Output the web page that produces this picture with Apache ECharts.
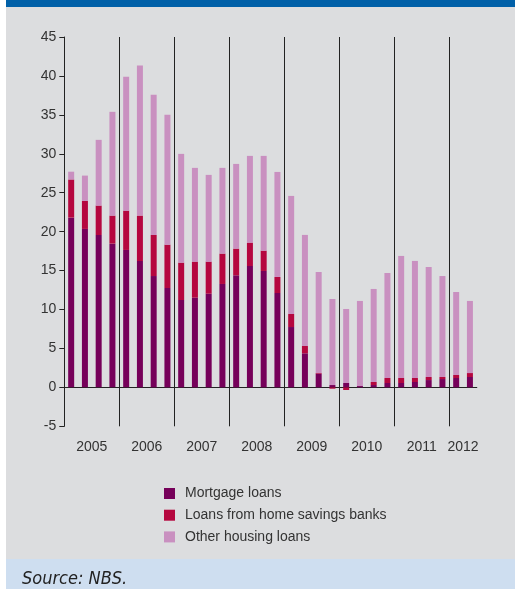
<!DOCTYPE html>
<html>
<head>
<meta charset="utf-8">
<script src="https://cdn.jsdelivr.net/npm/echarts@6/dist/echarts.min.js"></script>
<style>
  html, body { margin: 0; padding: 0; background: #ffffff; }
  #chart { width: 515px; height: 589px; }
</style>
</head>
<body>
<div id="chart"></div>
<script>
// Quarterly categories, 2005 Q1 – 2012 Q2
const quarters = [
  '2005 Q1', '2005 Q2', '2005 Q3', '2005 Q4',
  '2006 Q1', '2006 Q2', '2006 Q3', '2006 Q4',
  '2007 Q1', '2007 Q2', '2007 Q3', '2007 Q4',
  '2008 Q1', '2008 Q2', '2008 Q3', '2008 Q4',
  '2009 Q1', '2009 Q2', '2009 Q3', '2009 Q4',
  '2010 Q1', '2010 Q2', '2010 Q3', '2010 Q4',
  '2011 Q1', '2011 Q2', '2011 Q3', '2011 Q4',
  '2012 Q1', '2012 Q2'
];

// Year-on-year contributions (percentage points)
const mortgageLoans = [
  21.8, 20.35, 19.57, 18.46,
  17.65, 16.23, 14.3, 12.76,
  11.22, 11.52, 12.03, 13.28,
  14.39, 15.59, 14.95, 12.12,
  7.75, 4.37, 1.75, 0.3,
  0.56, 0.17, 0.3, 0.56,
  0.56, 0.69, 0.94, 1.07,
  1.2, 1.33
];
const homeSavingsLoans = [
  4.9, 3.6, 3.78, 3.6,
  5.05, 5.83, 5.27, 5.57,
  4.8, 4.63, 4.12, 3.9,
  3.43, 3.0, 2.61, 2.06,
  1.67, 0.94, 0.09, -0.17,
  -0.34, 0.0, 0.39, 0.64,
  0.64, 0.51, 0.39, 0.26,
  0.39, 0.51
];
const otherHousingLoans = [
  1.0, 3.25, 8.44, 13.33,
  17.18, 19.28, 18.0, 16.67,
  13.97, 12.04, 11.14, 11.01,
  10.88, 11.14, 12.17, 13.49,
  15.17, 14.27, 12.98, 11.05,
  9.51, 10.93, 11.95, 13.49,
  15.68, 15.04, 14.13, 12.97,
  10.66, 9.26
];

const yearLabels = ['2005', '2006', '2007', '2008', '2009', '2010', '2011', '2012'];
const yTickValues = [-5, 0, 5, 10, 15, 20, 25, 30, 35, 40, 45];
const seriesNames = ['Mortgage loans', 'Loans from home savings banks', 'Other housing loans'];

// Centre of each year's block of quarters, in quarter units
const yearCentres = yearLabels.map(function (y) {
  const idx = quarters.map(function (q, i) { return q.indexOf(y) === 0 ? i : -1; })
                      .filter(function (i) { return i >= 0; });
  return (idx[0] + idx[idx.length - 1] + 1) / 2;
});

const FONT = '"Liberation Sans", Arial, sans-serif';
const INK = '#333333';
const AXIS = '#222222';

const chart = echarts.init(document.getElementById('chart'), null, { renderer: 'canvas' });

chart.setOption({
  animation: false,
  backgroundColor: '#ffffff',
  textStyle: { fontFamily: FONT },
  graphic: [
    { type: 'rect', z: -10, silent: true, shape: { x: 6, y: 7, width: 509, height: 552 }, style: { fill: '#dcdddf' } },
    { type: 'rect', z: -10, silent: true, shape: { x: 6, y: 0, width: 509, height: 7 }, style: { fill: '#0060a8' } },
    { type: 'rect', z: -10, silent: true, shape: { x: 6, y: 559, width: 509, height: 30 }, style: { fill: '#cedef0' } },
    {
      type: 'text', z: 10, silent: true, left: 22, top: 570,
      style: {
        text: 'Source: NBS.',
        font: 'italic 18px "Liberation Sans Narrow", "DejaVu Sans Condensed", sans-serif',
        fill: '#222222'
      }
    }
  ],
  grid: { left: 64.3, right: 38.2, top: 37, bottom: 162.7, containLabel: false },
  legend: {
    orient: 'vertical',
    left: 164,
    top: 486.5,
    padding: 0,
    itemWidth: 11,
    itemHeight: 11,
    itemGap: 7.7,
    icon: 'rect',
    data: seriesNames,
    textStyle: { fontFamily: FONT, fontSize: 14, color: INK, padding: [0, 0, 0, 5] }
  },
  xAxis: [
    {
      type: 'category',
      data: quarters,
      axisLine: { onZero: true, lineStyle: { color: AXIS, width: 1 } },
      axisTick: { show: false },
      axisLabel: { show: false },
      splitLine: { show: false }
    },
    {
      // year separators and year labels
      type: 'value',
      position: 'bottom',
      min: 0,
      max: quarters.length,
      interval: 4,
      axisLine: { show: false },
      axisTick: { show: false },
      splitLine: { show: true, showMinLine: false, showMaxLine: false, lineStyle: { color: AXIS, width: 1 } },
      axisLabel: {
        customValues: yearCentres,
        margin: 14,
        fontSize: 14,
        color: INK,
        fontFamily: FONT,
        formatter: function (v) {
          const i = yearCentres.indexOf(v);
          return i >= 0 ? yearLabels[i] : '';
        }
      }
    }
  ],
  yAxis: {
    type: 'value',
    min: yTickValues[0],
    max: yTickValues[yTickValues.length - 1],
    interval: 5,
    axisLine: { show: true, lineStyle: { color: AXIS, width: 1 } },
    axisTick: { show: true, inside: false, length: 5, lineStyle: { color: AXIS } },
    splitLine: { show: false },
    axisLabel: { fontSize: 14, color: INK, margin: 8, fontFamily: FONT }
  },
  series: [
    { name: seriesNames[0], type: 'bar', stack: 'total', xAxisIndex: 0, barWidth: 6, data: mortgageLoans, itemStyle: { color: '#76005a' } },
    { name: seriesNames[1], type: 'bar', stack: 'total', xAxisIndex: 0, barWidth: 6, data: homeSavingsLoans, itemStyle: { color: '#b5073f' } },
    { name: seriesNames[2], type: 'bar', stack: 'total', xAxisIndex: 0, barWidth: 6, data: otherHousingLoans, itemStyle: { color: '#c990c0' } }
  ]
});
</script>
</body>
</html>
